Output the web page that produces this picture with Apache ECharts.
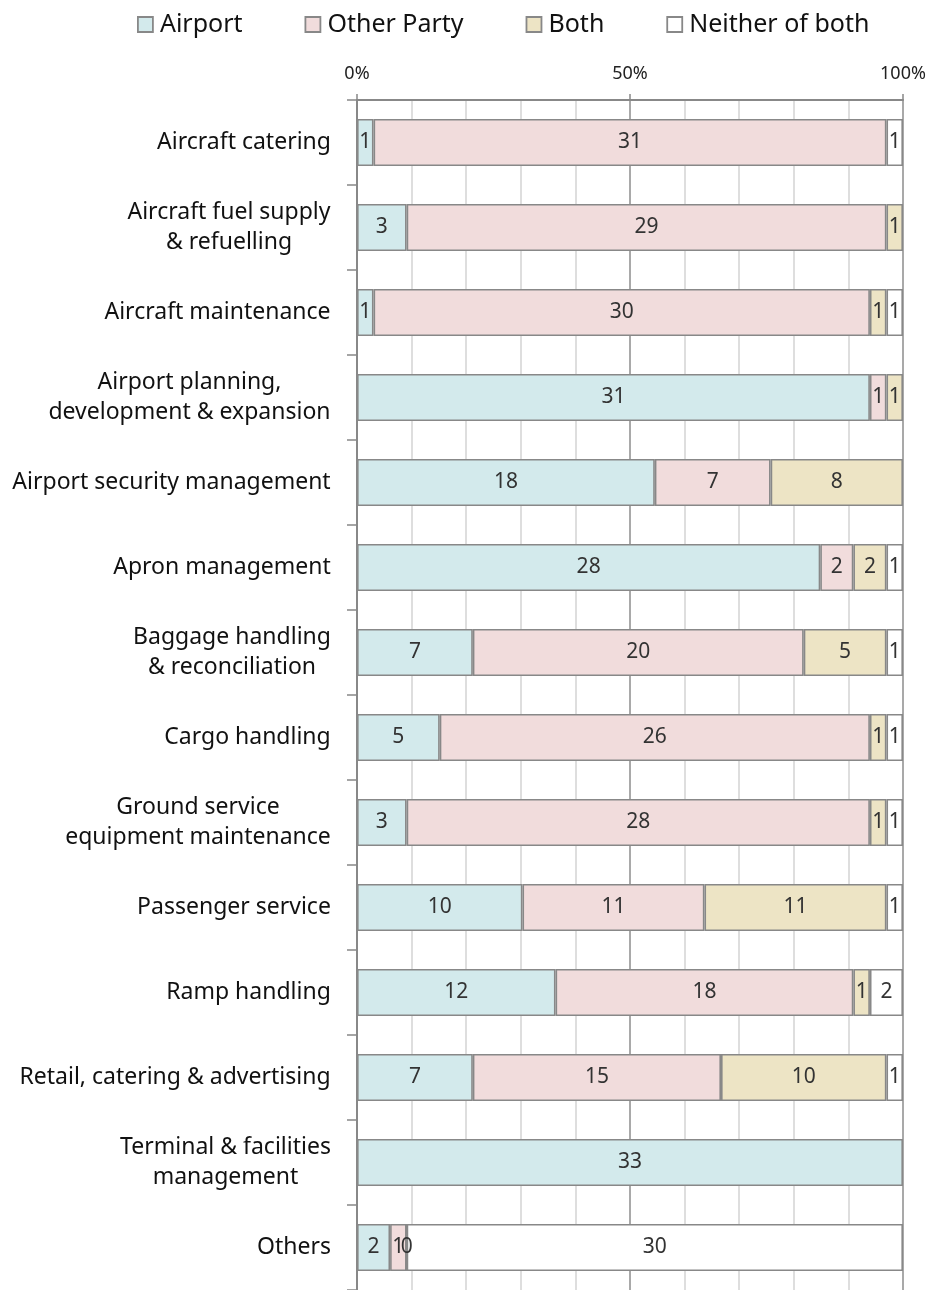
<!DOCTYPE html>
<html>
<head>
<meta charset="utf-8">
<script src="https://cdn.jsdelivr.net/npm/echarts@6/dist/echarts.min.js"></script>
<style>
html, body { margin: 0; padding: 0; background: #fff; }
#main { width: 929px; height: 1290px; }
</style>
</head>
<body>
<div id="main"></div>
<script>
// categories, top to bottom
var categories = [
    'Aircraft catering',
    'Aircraft fuel supply\n& refuelling',
    'Aircraft maintenance',
    'Airport planning,\ndevelopment & expansion',
    'Airport security management',
    'Apron management',
    'Baggage handling\n& reconciliation',
    'Cargo handling',
    'Ground service\nequipment maintenance',
    'Passenger service',
    'Ramp handling',
    'Retail, catering & advertising',
    'Terminal & facilities\nmanagement',
    'Others'
];
// counts per answer (null = empty cell)
var airport    = [1, 3, 1, 31, 18, 28, 7, 5, 3, 10, 12, 7, 33, 2];
var otherParty = [31, 29, 30, 1, 7, 2, 20, 26, 28, 11, 18, 15, null, 1];
var both       = [null, 1, 1, 1, 8, 2, 5, 1, 1, 11, 1, 10, null, 0];
var neither    = [1, null, 1, null, null, 1, 1, 1, 1, 1, 2, 1, null, 30];
var seriesNames = ['Airport', 'Other Party', 'Both', 'Neither of both'];
var seriesColors = ['#d3eaec', '#f1dcdc', '#ede4c5', '#ffffff'];
var percentTicks = ['0%', '50%', '100%'];

var chart = echarts.init(document.getElementById('main'));

var catSize = 23;
var ctx = document.createElement('canvas').getContext('2d');
ctx.font = catSize + 'px "Noto Sans"';

// multi-line labels: lines centered inside a right-aligned block
var rich = {};
categories.forEach(function (c, i) {
    var w = 0;
    c.split('\n').forEach(function (l) { w = Math.max(w, ctx.measureText(l).width); });
    rich['c' + i] = { width: Math.ceil(w), align: 'center', fontSize: catSize, fontFamily: 'Noto Sans', color: '#111', lineHeight: 30 };
});

var totals = categories.map(function (c, i) {
    return (airport[i] || 0) + (otherParty[i] || 0) + (both[i] || 0) + (neither[i] || 0);
});

function toData(arr) {
    return arr.map(function (v, i) {
        if (v === null) return { value: null };
        return { value: v / totals[i] * 100, count: v };
    });
}

var series = [airport, otherParty, both, neither].map(function (arr, k) {
    return {
        name: seriesNames[k],
        type: 'bar',
        stack: 'all',
        barWidth: 47,
        data: toData(arr),
        itemStyle: { color: seriesColors[k], borderColor: '#888', borderWidth: 1.6 },
        label: {
            show: true,
            position: 'inside',
            fontFamily: 'Noto Sans',
            fontSize: 21,
            color: '#333',
            formatter: function (p) { return p.data.count == null ? '' : String(p.data.count); }
        }
    };
});

chart.setOption({
    animation: false,
    legend: {
        top: 7,
        left: 132,
        itemWidth: 15,
        itemHeight: 15,
        itemGap: 62,
        icon: 'rect',
        textStyle: { fontSize: 25, fontFamily: 'Noto Sans', color: '#111', padding: [0, 0, 0, 2] },
        itemStyle: { borderColor: '#888', borderWidth: 1.8 },
        data: seriesNames
    },
    grid: { left: 357, right: 26, top: 100, bottom: 0 },
    xAxis: {
        type: 'value',
        position: 'top',
        min: 0,
        max: 100,
        interval: 50,
        axisLine: { show: true, lineStyle: { color: '#888', width: 2 } },
        axisTick: { show: true, length: 6, lineStyle: { color: '#888', width: 1.5 } },
        axisLabel: {
            fontSize: 18, fontFamily: 'Noto Sans', color: '#222', margin: 17,
            formatter: function (v) { return percentTicks[v / 50]; }
        },
        splitLine: { show: true, lineStyle: { color: '#8c8c8c', width: 1.5 } },
        minorTick: { show: false, splitNumber: 5 },
        minorSplitLine: { show: true, lineStyle: { color: '#d4d4d4', width: 1.5 } }
    },
    yAxis: {
        type: 'category',
        inverse: true,
        data: categories,
        axisLine: { show: true, lineStyle: { color: '#888', width: 2 } },
        axisTick: { show: true, length: 10, lineStyle: { color: '#888', width: 1.5 } },
        axisLabel: {
            margin: 26,
            formatter: function (v, i) {
                return v.split('\n').map(function (l) { return '{c' + i + '|' + l + '}'; }).join('\n');
            },
            rich: rich
        }
    },
    series: series
});
</script>
</body>
</html>
